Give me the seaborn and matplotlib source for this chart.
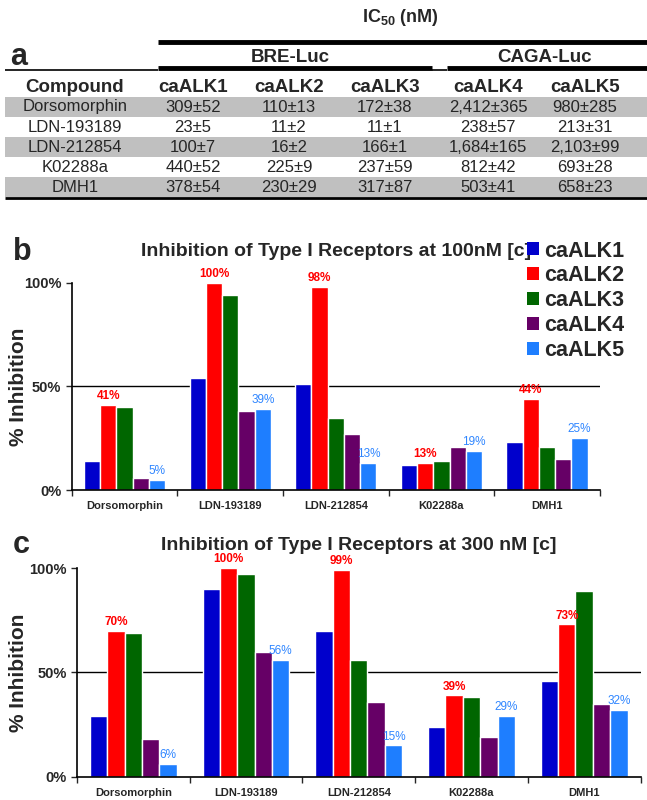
import numpy as np
import pandas as pd
import matplotlib
matplotlib.use("Agg")
import matplotlib.pyplot as plt
from matplotlib.patches import Patch
import seaborn as sns

# --- data ---
compounds = ["Dorsomorphin", "LDN-193189", "LDN-212854", "K02288a", "DMH1"]
receptors = ["caALK1", "caALK2", "caALK3", "caALK4", "caALK5"]

# IC50 table (nM)
ic50_alk1 = ["309±52", "23±5", "100±7", "440±52", "378±54"]
ic50_alk2 = ["110±13", "11±2", "16±2", "225±9", "230±29"]
ic50_alk3 = ["172±38", "11±1", "166±1", "237±59", "317±87"]
ic50_alk4 = ["2,412±365", "238±57", "1,684±165", "812±42", "503±41"]
ic50_alk5 = ["980±285", "213±31", "2,103±99", "693±28", "658±23"]

# % inhibition at 100 nM
inh100_alk1 = [14, 54, 51, 12, 23]
inh100_alk2 = [41, 100, 98, 13, 44]
inh100_alk3 = [40, 94, 35, 14, 21]
inh100_alk4 = [6, 38, 27, 21, 15]
inh100_alk5 = [5, 39, 13, 19, 25]

# % inhibition at 300 nM
inh300_alk1 = [29, 90, 70, 24, 46]
inh300_alk2 = [70, 100, 99, 39, 73]
inh300_alk3 = [69, 97, 56, 38, 89]
inh300_alk4 = [18, 60, 36, 19, 35]
inh300_alk5 = [6, 56, 15, 29, 32]

colors = ["#0000CC", "#FF0000", "#006600", "#660066", "#1E7EFF"]

sns.set_style("white")
plt.rcParams["font.family"] = ["Liberation Sans", "DejaVu Sans"]
plt.rcParams["mathtext.fontset"] = "custom"
plt.rcParams["mathtext.rm"] = "Liberation Sans"
plt.rcParams["mathtext.bf"] = "Liberation Sans:bold"

fig = plt.figure(figsize=(6.47, 8.0), dpi=100)

# --- panel a: table, drawn in pixel coordinates ---
ax_t = fig.add_axes([0, 0.75, 1, 0.25])
ax_t.set_xlim(0, 647)
ax_t.set_ylim(200, 0)
ax_t.axis("off")

ax_t.text(400, 18, r"$\mathbf{IC}_{\mathbf{50}}$ (nM)", ha="center", va="center",
          fontsize=13, fontweight="bold")
ax_t.plot([158, 647], [42, 42], color="black", lw=3.5, solid_capstyle="butt")
ax_t.text(10, 57, "a", ha="left", va="center", fontsize=22, fontweight="bold")
ax_t.text(290, 57, "BRE-Luc", ha="center", va="center", fontsize=13.5, fontweight="bold")
ax_t.text(545, 57, "CAGA-Luc", ha="center", va="center", fontsize=13.5, fontweight="bold")
ax_t.plot([5, 158], [70, 70], color="black", lw=1.2, solid_capstyle="butt")
ax_t.plot([158, 432], [68, 68], color="black", lw=3.5, solid_capstyle="butt")
ax_t.plot([432, 447], [70, 70], color="black", lw=1.2, solid_capstyle="butt")
ax_t.plot([447, 647], [68, 68], color="black", lw=3.5, solid_capstyle="butt")

col_x = [75, 193, 289, 385, 488, 585]
ax_t.text(col_x[0], 87, "Compound", ha="center", va="center",
          fontsize=13.5, fontweight="bold")
for x, r in zip(col_x[1:], receptors):
    ax_t.text(x, 87, r, ha="center", va="center", fontsize=13.5, fontweight="bold")

table_cols = [compounds, ic50_alk1, ic50_alk2, ic50_alk3, ic50_alk4, ic50_alk5]
for i in range(len(compounds)):
    y = 107 + 20 * i
    if i % 2 == 0:
        ax_t.fill_between([5, 647], y - 10, y + 10, color="#C0C0C0", lw=0)
    for x, col in zip(col_x, table_cols):
        ax_t.text(x, y, col[i], ha="center", va="center", fontsize=12)
ax_t.plot([5, 647], [198, 198], color="black", lw=2, solid_capstyle="butt")


def draw_panel(ax, values, title, letter, title_dy, legend=False):
    df = pd.DataFrame({
        "Compound": np.repeat(compounds, len(receptors)),
        "Receptor": receptors * len(compounds),
        "Inhibition": np.array(values).T.ravel() / 100.0,
    })
    sns.barplot(data=df, x="Compound", y="Inhibition", hue="Receptor",
                hue_order=receptors, order=compounds, palette=colors,
                saturation=1, width=0.77, ax=ax, legend=False)
    ax.set_ylim(0, 1)
    ax.set_xlim(-0.5, len(compounds) - 0.5)
    ax.set_yticks([0, 0.5, 1.0])
    ax.set_yticklabels(["0%", "50%", "100%"], fontsize=10.5, fontweight="bold")
    ax.set_xticks(range(len(compounds)))
    ax.set_xticklabels(compounds, fontsize=8, fontweight="bold")
    ax.set_xticks(np.arange(-0.5, len(compounds)), minor=True)
    ax.tick_params(axis="x", which="major", length=0, pad=8)
    ax.tick_params(axis="x", which="minor", length=4, direction="out",
                   bottom=True, width=1)
    ax.tick_params(axis="y", length=4, direction="out", left=True, width=1)
    ax.axhline(0.5, color="black", lw=1, zorder=0)
    for side in ["top", "right"]:
        ax.spines[side].set_visible(False)
    for side in ["left", "bottom"]:
        ax.spines[side].set_color("black")
        ax.spines[side].set_linewidth(1.2)
    ax.set_xlabel("")
    ax.set_ylabel("% Inhibition", fontsize=15, fontweight="bold")
    # place the y label about 28 px from the figure's left edge
    pos = ax.get_position()
    ax.yaxis.set_label_coords((28 / 647 - pos.x0) / pos.width, 0.5)

    ax.bar_label(ax.containers[1], labels=[f"{v}%" for v in values[1]],
                 color="#FF0000", fontsize=8.5, fontweight="bold", padding=2)
    ax.bar_label(ax.containers[4], labels=[f"{v}%" for v in values[4]],
                 color="#2F86FF", fontsize=8.5, padding=2)

    ax.text(0.5, 1.0 + title_dy, title, transform=ax.transAxes, ha="center",
            va="center", fontsize=14, fontweight="bold")
    fig.text(0.02, pos.y1 + title_dy * pos.height, letter, ha="left",
             va="center", fontsize=22, fontweight="bold")

    if legend:
        handles = [Patch(facecolor=c, edgecolor="none") for c in colors]
        ax.legend(handles, receptors, loc="upper left",
                  bbox_to_anchor=(0.862, 1.205), frameon=False,
                  prop={"size": 15.5, "weight": "bold"},
                  handlelength=0.55, handleheight=0.55, handletextpad=0.25,
                  labelspacing=0.18, borderaxespad=0, borderpad=0)


ax_b = fig.add_axes([0.111, 0.3875, 0.816, 0.2588])
draw_panel(ax_b, [inh100_alk1, inh100_alk2, inh100_alk3, inh100_alk4, inh100_alk5],
           "Inhibition of Type I Receptors at 100nM [c]", "b", 0.15, legend=True)

ax_c = fig.add_axes([0.119, 0.029, 0.871, 0.261])
draw_panel(ax_c, [inh300_alk1, inh300_alk2, inh300_alk3, inh300_alk4, inh300_alk5],
           "Inhibition of Type I Receptors at 300 nM [c]", "c", 0.11)

fig.savefig("out.png", dpi=100)
